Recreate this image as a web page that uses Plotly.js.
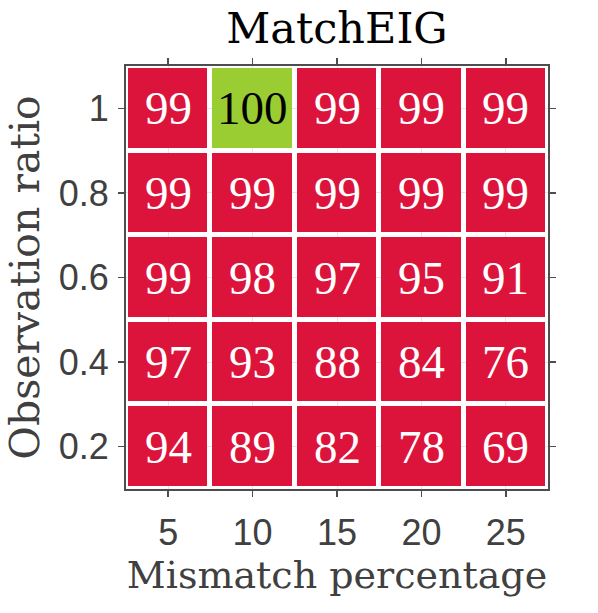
<!DOCTYPE html>
<html>
<head>
<meta charset="utf-8">
<script src="https://cdn.plot.ly/plotly-3.0.1.min.js"></script>
<style>
  html, body { margin: 0; padding: 0; background: #fff; }
  #myChart { width: 598px; height: 613px; }
</style>
</head>
<body>
<div id="myChart"></div>
<script>
// mismatch percentage (x) and observation ratio (y)
const mismatch = [5, 10, 15, 20, 25];
const obsRatio = [0.2, 0.4, 0.6, 0.8, 1];
const xTickText = ['5', '10', '15', '20', '25'];
const yTickText = ['0.2', '0.4', '0.6', '0.8', '1'];

// accuracy, one row per observation ratio (bottom to top)
const row02 = [94, 89, 82, 78, 69];
const row04 = [97, 93, 88, 84, 76];
const row06 = [99, 98, 97, 95, 91];
const row08 = [99, 99, 99, 99, 99];
const row10 = [99, 100, 99, 99, 99];
const acc = [row02, row04, row06, row08, row10];

const serif = '"DejaVu Serif", serif';
const numSerif = '"Liberation Serif", "Times New Roman", serif';
const sans = '"Liberation Sans", Arial, sans-serif';

const annotations = [];
obsRatio.forEach((yv, i) => {
	mismatch.forEach((xv, j) => {
		const v = acc[i][j];
		annotations.push({
			x: xv, y: yv, xref: 'x', yref: 'y',
			text: String(v),
			showarrow: false,
			font: { family: numSerif, size: 47, color: v >= 100 ? '#000000' : '#ffffff' }
		});
	});
});

const trace = {
	x: mismatch,
	y: obsRatio,
	z: acc,
	type: 'heatmap',
	zmin: 0,
	zmax: 100,
	colorscale: [[0, '#DC143C'], [0.995, '#DC143C'], [0.996, '#9ACD32'], [1, '#9ACD32']],
	showscale: false,
	xgap: 5,
	ygap: 5,
	hoverinfo: 'skip'
};

const layout = {
	width: 598,
	height: 613,
	margin: { l: 126, r: 50, t: 66, b: 124 },
	paper_bgcolor: '#ffffff',
	plot_bgcolor: '#ffffff',
	title: {
		text: 'MatchEIG',
		font: { family: serif, size: 43, color: '#000000' },
		x: 0.5, xref: 'paper', xanchor: 'center',
		y: 0.955, yref: 'container', yanchor: 'middle'
	},
	xaxis: {
		range: [2.5, 27.5],
		tickvals: mismatch,
		ticktext: xTickText,
		ticks: 'outside',
		ticklen: 6,
		tickwidth: 1.5,
		tickcolor: '#4d4d4d',
		ticklabelstandoff: 5,
		showline: true,
		linecolor: '#4d4d4d',
		linewidth: 2,
		mirror: 'ticks',
		showgrid: true,
		gridcolor: '#e6e6e6',
		zeroline: false,
		tickfont: { family: sans, size: 36, color: '#404040' },
		title: { text: 'Mismatch percentage', font: { family: serif, size: 38, color: '#404040' }, standoff: 8 }
	},
	yaxis: {
		range: [0.1, 1.1],
		tickvals: obsRatio,
		ticktext: yTickText,
		ticks: 'outside',
		ticklen: 6,
		tickwidth: 1.5,
		tickcolor: '#4d4d4d',
		ticklabelstandoff: 2,
		showline: true,
		linecolor: '#4d4d4d',
		linewidth: 2,
		mirror: 'ticks',
		showgrid: true,
		gridcolor: '#e6e6e6',
		zeroline: false,
		tickfont: { family: sans, size: 36, color: '#404040' },
		title: { text: 'Observation ratio', font: { family: serif, size: 41, color: '#404040' }, standoff: 6 }
	},
	annotations: annotations
};

Plotly.newPlot('myChart', [trace], layout, { displayModeBar: false, staticPlot: true });
</script>
</body>
</html>
